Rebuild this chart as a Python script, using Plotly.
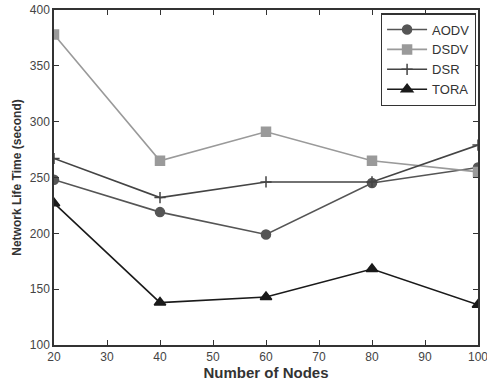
import plotly.graph_objects as go

nodes = [20, 40, 60, 80, 100]
aodv = [248, 219, 199, 245, 259]
dsdv = [378, 265, 291, 265, 255]
dsr = [267, 232, 246, 246, 279]
tora = [227, 138, 143, 168, 136]

x_ticks = [20, 30, 40, 50, 60, 70, 80, 90, 100]
y_ticks = [100, 150, 200, 250, 300, 350, 400]

series = [
    ("AODV", aodv, "#555555", "circle", 9),
    ("DSDV", dsdv, "#9a9a9a", "square", 9),
    ("DSR", dsr, "#444444", "cross-thin-open", 8),
    ("TORA", tora, "#1a1a1a", "triangle-up", 10),
]

fig = go.Figure()
for name, ys, col, sym, sz in series:
    fig.add_trace(go.Scatter(
        x=nodes, y=ys, name=name, mode="lines+markers",
        line=dict(color=col, width=1.6),
        marker=dict(symbol=sym, size=sz, color=col, line=dict(color=col, width=1.5)),
    ))

axis_common = dict(
    showline=True, linecolor="#333333", linewidth=1.5, mirror="ticks",
    ticks="inside", ticklen=5, tickcolor="#333333", showgrid=False, zeroline=False,
    automargin=False, ticklabeloverflow="allow",
    tickfont=dict(family="Liberation Sans, Arial", size=12, color="#444444"),
)

fig.update_xaxes(range=[20, 100], tickvals=x_ticks,
                 title=dict(text="<b>Number of Nodes</b>", standoff=4,
                            font=dict(family="Liberation Sans, Arial", size=15, color="#333333")),
                 **axis_common)
fig.update_yaxes(range=[100, 400], tickvals=y_ticks,
                 title=dict(text="<b>Network Life Time (second)</b>", standoff=6,
                            font=dict(family="Liberation Sans, Arial", size=12, color="#333333")),
                 **axis_common)

fig.update_layout(
    width=487, height=383,
    margin=dict(l=54, r=9, t=10, b=38),
    paper_bgcolor="white", plot_bgcolor="white",
    legend=dict(x=0.995, y=0.99, xanchor="right", yanchor="top",
                bordercolor="#333333", borderwidth=1.2, bgcolor="white",
                font=dict(family="Liberation Sans, Arial", size=13, color="#333333"),
                tracegroupgap=0, itemwidth=40),
    showlegend=True,
)

fig.write_html("out.html")
